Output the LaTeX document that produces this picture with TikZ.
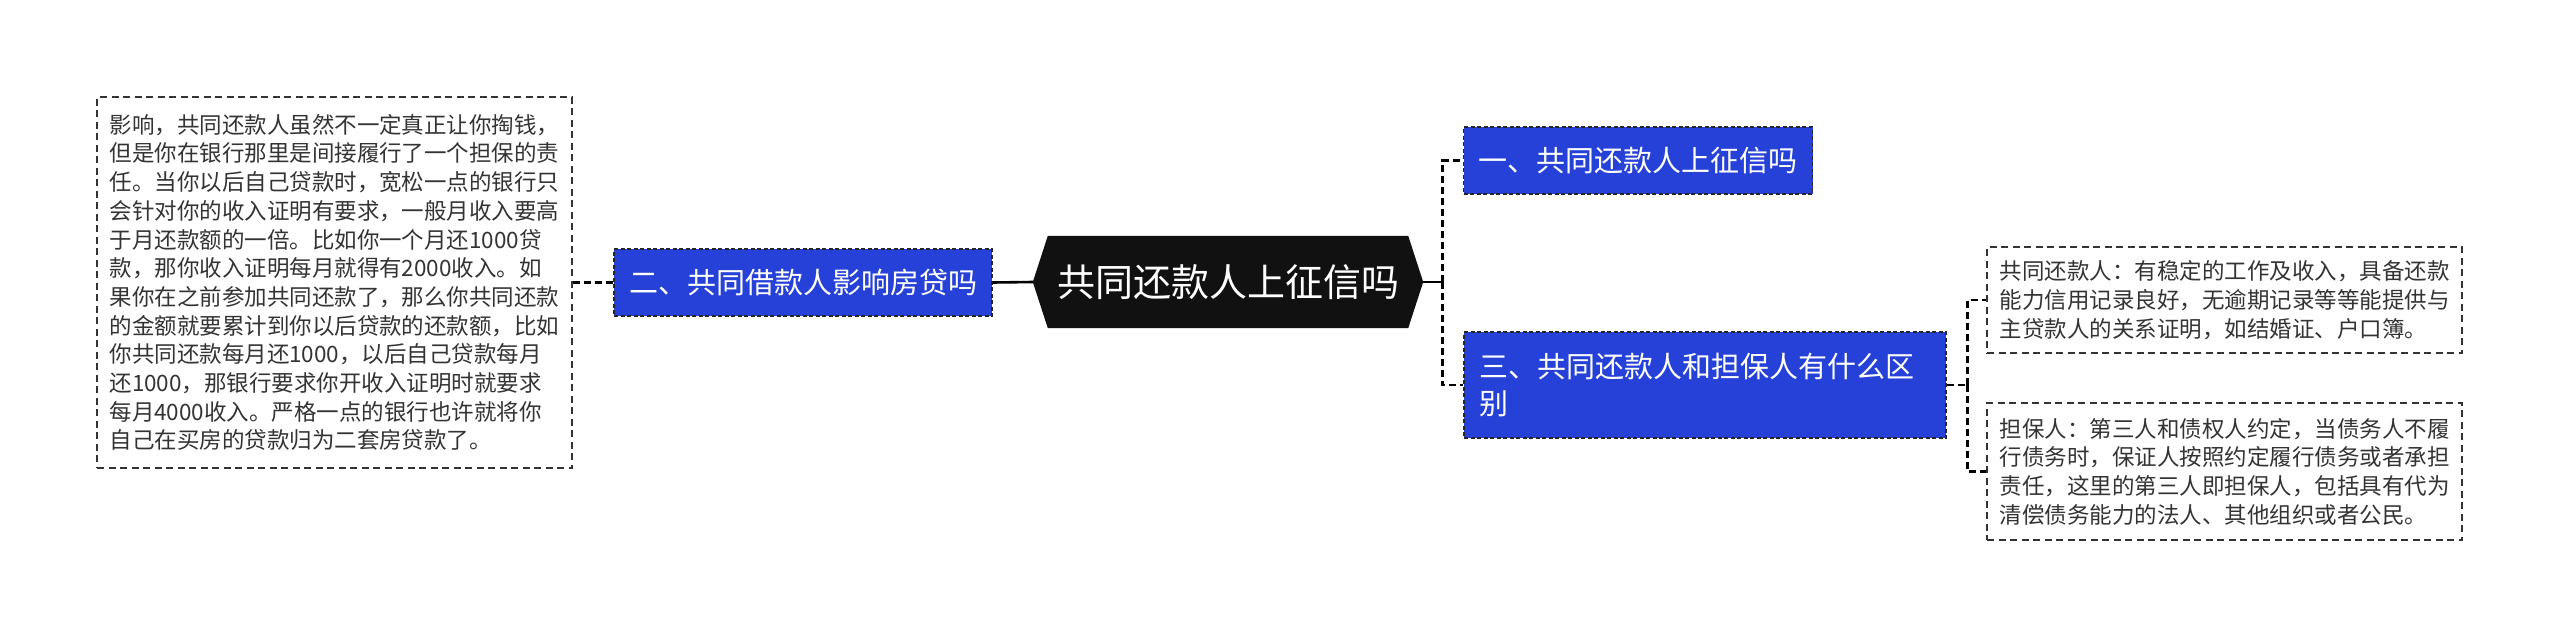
\documentclass[tikz,border=0pt]{standalone}
\usepackage{fontspec}
\setmainfont{Noto Sans CJK SC}
\usepackage{tikz}
\usetikzlibrary{backgrounds}
\definecolor{topic}{HTML}{2641D8}
\definecolor{hub}{HTML}{111111}
\definecolor{note}{HTML}{333333}

\begin{document}
\begin{tikzpicture}[x=1pt,y=-1pt,
topicbox/.style={fill=topic,draw=black!85,dash pattern=on 4pt off 2.5pt,line width=1.2pt,text=white,font=\fontsize{29}{37}\selectfont,align=left,inner xsep=15pt,inner ysep=0pt,minimum height=67pt},
notebox/.style={draw=note,dash pattern=on 7pt off 4.5pt,line width=1.6pt,text=note,font=\fontsize{22.5}{28.7}\selectfont,align=left,inner xsep=12pt,minimum width=475pt},
link/.style={draw=black,line width=2.6pt,dash pattern=on 7pt off 4pt}]
\useasboundingbox (0,0) rectangle (2560,638);
\node[notebox,minimum height=371pt] (d2) at (334.5,282.5) {影响，共同还款人虽然不一定真正让你掏钱，\\但是你在银行那里是间接履行了一个担保的责\\任。当你以后自己贷款时，宽松一点的银行只\\会针对你的收入证明有要求，一般月收入要高\\于月还款额的一倍。比如你一个月还1000贷\\款，那你收入证明每月就得有2000收入。如\\果你在之前参加共同还款了，那么你共同还款\\的金额就要累计到你以后贷款的还款额，比如\\你共同还款每月还1000，以后自己贷款每月\\还1000，那银行要求你开收入证明时就要求\\每月4000收入。严格一点的银行也许就将你\\自己在买房的贷款归为二套房贷款了。};
\node[topicbox,minimum width=378pt] (n2) at (803,282.5) {二、共同借款人影响房贷吗};
\node[font=\fontsize{38}{44}\selectfont,text=white,minimum width=390pt,minimum height=92pt,inner sep=0pt] (root) at (1228,282) {共同还款人上征信吗};
\begin{scope}[on background layer]
\fill[hub] (root.west) -- ([xshift=15pt]root.north west) -- ([xshift=-15pt]root.north east) -- (root.east) -- ([xshift=-15pt]root.south east) -- ([xshift=15pt]root.south west) -- cycle;
\end{scope}
\node[topicbox,minimum width=348pt] (n1) at (1638,160.5) {一、共同还款人上征信吗};
\node[topicbox,minimum height=106pt,text width=452pt] (n3) at (1705,385) {三、共同还款人和担保人有什么区\\别};
\node[notebox,minimum height=106pt] (d31) at (2224.5,300) {共同还款人：有稳定的工作及收入，具备还款\\能力信用记录良好，无逾期记录等等能提供与\\主贷款人的关系证明，如结婚证、户口簿。};
\node[notebox,minimum height=137pt] (d32) at (2224.5,471.5) {担保人：第三人和债权人约定，当债务人不履\\行债务时，保证人按照约定履行债务或者承担\\责任，这里的第三人即担保人，包括具有代为\\清偿债务能力的法人、其他组织或者公民。};
\draw[link] (d2.east) -- (n2.west);
\draw[line width=2.6pt] (n2.east) -- (root.west);
\draw[line width=2.6pt] (root.east) -- ++(19,0) coordinate (rj);
\draw[link] (rj) |- (n1.west);
\draw[link] (rj) |- (n3.west);
\draw[link] (n3.east) -- ++(21,0) coordinate (tj);
\draw[link] (tj) |- (d31.west);
\draw[link] (tj) |- (d32.west);
\end{tikzpicture}
\end{document}
